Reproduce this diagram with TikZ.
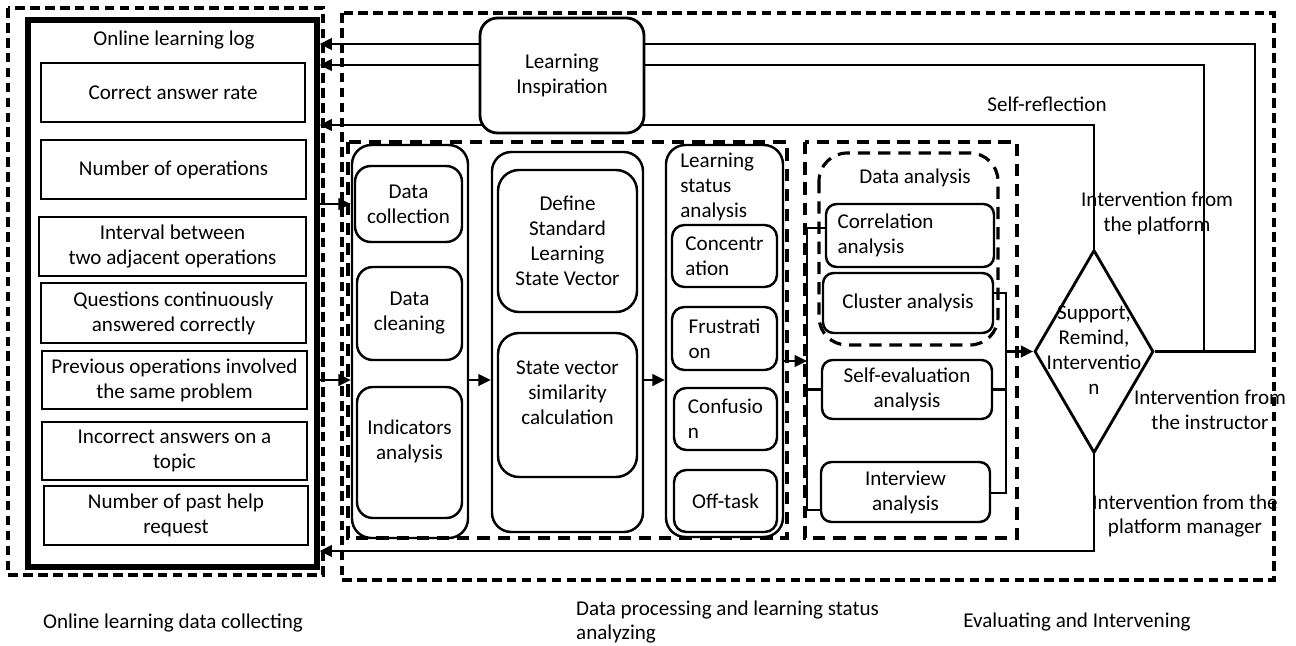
\documentclass[tikz,border=0pt]{standalone}
\usepackage{fontspec}
\setmainfont{Carlito}
\usetikzlibrary{arrows.meta,shapes.geometric}

\begin{document}
\begin{tikzpicture}[x=0.02cm, y=-0.02cm, >={Triangle[length=7pt,width=6.5pt]},
    font=\fontsize{12}{14.2}\selectfont,
    sz/.style 2 args={minimum width=#1*0.02cm, minimum height=#2*0.02cm},
    logitem/.style={draw, rectangle, line width=1.2pt, align=center, inner sep=1pt},
    stage/.style={draw, rounded corners=11pt, line width=1.4pt},
    task/.style={draw, rounded corners=9pt, line width=1.4pt, align=center, inner sep=1pt},
    emo/.style={draw, rounded corners=7pt, line width=1.4pt, align=left, inner sep=1pt},
    ana/.style={draw, rounded corners=6pt, line width=1.4pt, align=center, inner sep=1pt},
    zone/.style={dash pattern=on 5.5pt off 3pt, line width=1.8pt},
    subzone/.style={dash pattern=on 7pt off 4.5pt, line width=1.8pt},
    flow/.style={line width=1.6pt}]
    \useasboundingbox (0,0) rectangle (1296,646);

    % dashed zones
    \draw[zone] (8,8) rectangle (323,575);
    \draw[zone] (342,13) rectangle (1274,580);
    \draw[subzone] (348,142) rectangle (787,538);
    \draw[subzone] (805,142) rectangle (1017,538);
    \draw[subzone, rounded corners=16pt] (819,153) rectangle (998,345);

    % online learning log
    \node[draw, line width=3pt, sz={289}{547}] (log) at (172.5,293.5) {};
    \node (logtitle) at (174,40) {Online learning log};
    \node[logitem, sz={264}{59}] (rate) at (173,92.5) {Correct answer rate};
    \node[logitem, sz={265}{59}] (opcount) at (173.5,169.5) {Number of operations};
    \node[logitem, sz={267}{59}] (interval) at (172.5,246.5) {Interval between\\two adjacent operations};
    \node[logitem, sz={265}{60}] (streak) at (173.5,313) {Questions continuously\\answered correctly};
    \node[logitem, sz={265}{58}] (prevops) at (174.5,380) {Previous operations involved\\the same problem};
    \node[logitem, sz={265}{58}] (wrongtopic) at (174.5,451) {Incorrect answers on a\\topic};
    \node[logitem, sz={264}{59}] (helpreq) at (176,515.5) {Number of past help\\request};

    % data processing
    \node[stage, sz={116}{393}] (prep) at (410,341.5) {};
    \node[task, sz={107}{76}] (collect) at (408.5,204) {Data\\collection};
    \node[task, sz={105}{93}] (clean) at (409.5,313.5) {Data\\cleaning};
    \node[task, sz={105}{131}] (indic) at (409.5,452.5) {Indicators\\analysis\\~};

    \node[stage, sz={151}{380}] (vecstage) at (567.5,342) {};
    \node[task, rounded corners=12pt, sz={139}{142}] (definevec) at (567.5,241) {Define\\Standard\\Learning\\State Vector};
    \node[task, rounded corners=12pt, sz={139}{144}] (simil) at (567.5,405) {State vector\\similarity\\calculation\\~};

    \node[stage, sz={117}{392}] (status) at (724.5,341) {};
    \node[anchor=north west, inner sep=0pt, align=left] (statustitle) at (680,153) {Learning\\status\\analysis};
    \node[emo, sz={105}{62}] (conc) at (724.5,256) {Concentr\\ation};
    \node[emo, sz={105}{63}] (frus) at (724.5,338.5) {Frustrati\\on};
    \node[emo, sz={103}{62}] (conf) at (725.5,419) {Confusio\\n};
    \node[emo, sz={103}{62}] (offtask) at (725.5,501) {Off-task};

    % evaluating
    \node (datitle) at (915,178) {Data analysis};
    \node[ana, align=left, text width=2.9cm, sz={168}{63}] (corr) at (910,235.5) {Correlation\\analysis};
    \node[ana, sz={170}{60}] (clus) at (908,303) {Cluster analysis};
    \node[ana, sz={170}{59}] (selfeval) at (907,389.5) {Self-evaluation\\analysis};
    \node[ana, sz={169}{60}] (interview) at (905.5,492) {Interview\\analysis};

    \node[draw, diamond, line width=1.6pt, inner sep=0pt, sz={119}{203}] (dec) at (1094,351.5) {};
    \node[align=center] (dectext) at (1094,350) {Support,\\Remind,\\Interventio\\n};

    \node (selfref) at (1047,104) {Self-reflection};
    \node[align=center] (platform) at (1157,213) {Intervention from\\the platform};
    \node[align=center] (instructor) at (1210,410) {Intervention from\\the instructor};
    \node[align=center] (manager) at (1185,516) {Intervention from the\\platform manager};

    % feedback lines back to the log
    \coordinate (fb1) at (1255,44);
    \coordinate (fb2) at (1204,65);
    \coordinate (fb3) at (1094,125);
    \coordinate (fb4) at (1094,551);
    \draw[flow, ->] (dec.east) -| (fb1) -- (fb1 -| log.east);
    \draw[flow, ->] (dec.east) -| (fb2) -- (fb2 -| log.east);
    \draw[flow, ->] (dec.north) -- (fb3) -- (fb3 -| log.east);
    \draw[flow, ->] (dec.south) -- (fb4) -- (fb4 -| log.east);

    % main flow
    \draw[flow, ->] (log.east |- collect) -- (prep.west |- collect);
    \draw[flow, ->] (log.east |- prevops) -- (prep.west |- prevops);
    \draw[flow, ->] (prep.east |- prevops) -- (vecstage.west |- prevops);
    \draw[flow, ->] (vecstage.east |- prevops) -- (status.west |- prevops);
    \coordinate (bl0) at (807,361);
    \coordinate (bl1) at (807,228);
    \coordinate (bl2) at (807,510);
    \draw[flow, ->] (status.east |- bl0) -- (bl0);
    \draw[flow] (bl1 -| corr.west) -- (bl1) -- (bl2) -- (bl2 -| interview.west);
    \draw[flow] (selfeval.west) -- (selfeval.west -| bl1);
    \coordinate (br1) at (1006,293);
    \coordinate (br2) at (1006,493);
    \draw[flow] (br1 -| clus.east) -- (br1) -- (br2) -- (br2 -| interview.east);
    \draw[flow] (selfeval.east) -- (selfeval.east -| br1);
    \draw[flow, ->] (dec.west -| br1) -- (dec.west);

    \node[draw, fill=white, rounded corners=10pt, line width=1.6pt, align=center, sz={164}{115}] (insp) at (562,75.5) {Learning\\Inspiration};

    % captions
    \node (capcollect) at (173,623) {Online learning data collecting};
    \node[anchor=west, align=left] (capprocess) at (570,622) {Data processing and learning status\\analyzing};
    \node (capeval) at (1077,622) {Evaluating and Intervening};
\end{tikzpicture}
\end{document}
